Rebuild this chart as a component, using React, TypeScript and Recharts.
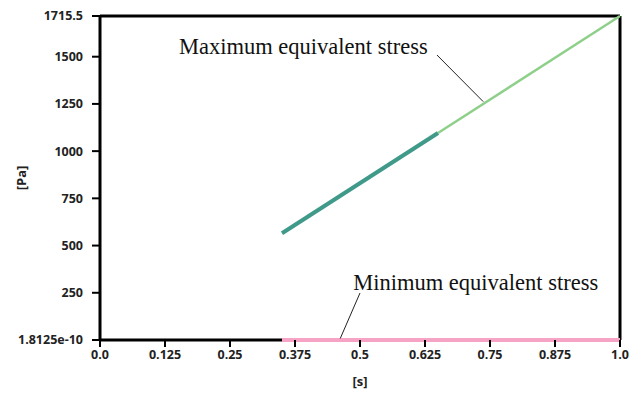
import React from "react";
import {
  Label,
  Line,
  LineChart,
  ReferenceDot,
  ReferenceLine,
  XAxis,
  YAxis,
} from "recharts";

// time [s] and stress [Pa]
const maxTimes = [0.35, 0.65, 1.0];
const maxStress = [565, 1096, 1715.5];
const minTimes = [0.35, 1.0];
const minStress = [0, 0];

const xTicks = [0, 0.125, 0.25, 0.375, 0.5, 0.625, 0.75, 0.875, 1.0];
const yTicks = [1.8125e-10, 250, 500, 750, 1000, 1250, 1500, 1715.5];
const yMax = 1715.5;

const maxData = maxTimes.map((t, i) => ({ t, v: maxStress[i] }));
const minData = minTimes.map((t, i) => ({ t, v: minStress[i] }));

const tickStyle = {
  fontSize: 12.5,
  fontWeight: 700,
  fill: "#222",
  fontFamily: "'Open Sans', sans-serif",
};

const noteStyle = {
  fontSize: 22.5,
  fill: "#111",
  fontFamily: "'Liberation Serif', serif",
};

function formatX(v: number) {
  if (v === 0) return "0.0";
  if (v === 1) return "1.0";
  return String(v);
}

export default function App() {
  return (
    <div style={{ position: "absolute", left: 0, top: 0, background: "#fff" }}>
      <LineChart
        width={634}
        height={402}
        margin={{ top: 16, right: 14, left: 0, bottom: 0 }}
      >
        <XAxis
          dataKey="t"
          type="number"
          domain={[0, 1]}
          ticks={xTicks}
          tickFormatter={formatX}
          height={62}
          tick={tickStyle}
          tickSize={7}
          tickMargin={3}
          axisLine={false}
          tickLine={{ stroke: "#000", strokeWidth: 2 }}
        >
          <Label
            value="[s]"
            position="insideBottom"
            offset={16}
            style={{ ...tickStyle, fontSize: 13 }}
          />
        </XAxis>
        <YAxis
          type="number"
          domain={[0, yMax]}
          ticks={yTicks}
          width={100}
          tick={tickStyle}
          tickSize={8}
          tickMargin={9}
          axisLine={{ stroke: "#000", strokeWidth: 3 }}
          tickLine={{ stroke: "#000", strokeWidth: 2 }}
          interval={0}
        >
          <Label
            value="[Pa]"
            angle={-90}
            position="insideLeft"
            offset={21}
            style={{ ...tickStyle, fontSize: 13, textAnchor: "middle" }}
          />
        </YAxis>
        <ReferenceLine y={yMax} stroke="#000" strokeWidth={3} />
        <ReferenceLine x={1} stroke="#000" strokeWidth={3} />
        <ReferenceLine
          segment={[
            { x: 0, y: 0 },
            { x: minTimes[0], y: 0 },
          ]}
          stroke="#000"
          strokeWidth={3}
        />

        <Line
          data={minData}
          dataKey="v"
          stroke="#f6a3c6"
          strokeWidth={4}
          dot={false}
          isAnimationActive={false}
        />
        <Line
          data={maxData.slice(1)}
          dataKey="v"
          stroke="#8ed08a"
          strokeWidth={2.5}
          dot={false}
          isAnimationActive={false}
        />
        <Line
          data={maxData.slice(0, 2)}
          dataKey="v"
          stroke="#3f9a8a"
          strokeWidth={4}
          dot={false}
          isAnimationActive={false}
        />

        <ReferenceLine
          segment={[
            { x: 0.648, y: 1509 },
            { x: 0.737, y: 1262 },
          ]}
          stroke="#222"
          strokeWidth={1}
        />
        <ReferenceLine
          segment={[
            { x: 0.5, y: 249 },
            { x: 0.462, y: 8 },
          ]}
          stroke="#222"
          strokeWidth={1}
        />
        <ReferenceDot x={0.15} y={1557} r={1} fill="none" stroke="none">
          <Label value="Maximum equivalent stress" position="right" offset={0} style={noteStyle} />
        </ReferenceDot>
        <ReferenceDot x={0.485} y={307} r={1} fill="none" stroke="none">
          <Label value="Minimum equivalent stress" position="right" offset={0} style={noteStyle} />
        </ReferenceDot>
      </LineChart>
    </div>
  );
}
